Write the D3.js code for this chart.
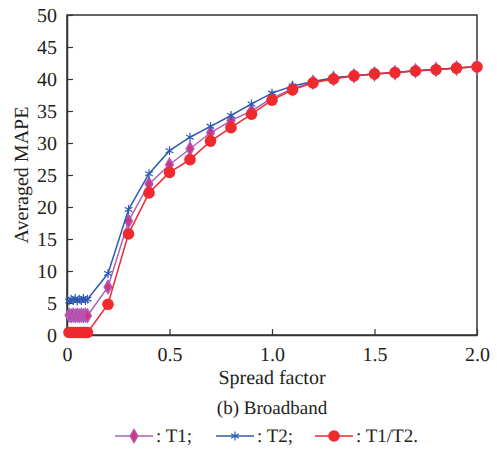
<!DOCTYPE html>
<html>
<head>
<meta charset="utf-8">
<script src="https://cdn.jsdelivr.net/npm/d3@7"></script>
<style>
  html, body { margin: 0; padding: 0; background: #fff; }
  svg { display: block; }
</style>
</head>
<body>
<svg id="chart" width="497" height="449" text-rendering="geometricPrecision"></svg>
<script>
// Spread factor sampled finely near zero, then every 0.1 up to 2.0
const spread = [0.01, 0.02, 0.03, 0.04, 0.05, 0.06, 0.07, 0.08, 0.09, 0.1,
  0.2, 0.3, 0.4, 0.5, 0.6, 0.7, 0.8, 0.9, 1.0, 1.1, 1.2, 1.3, 1.4, 1.5,
  1.6, 1.7, 1.8, 1.9, 2.0];

const t1 = [3.1, 3.0, 3.1, 3.0, 3.1, 3.0, 3.1, 3.0, 3.1, 3.0,
  7.5, 17.8, 23.6, 26.6, 29.1, 31.6, 33.5, 35.0, 37.0, 38.5, 39.5, 40.1, 40.5, 40.8,
  41.0, 41.3, 41.5, 41.7, 41.9];

const t2 = [5.3, 5.6, 5.4, 5.7, 5.3, 5.6, 5.4, 5.7, 5.4, 5.6,
  9.6, 19.6, 25.2, 28.8, 30.9, 32.6, 34.3, 36.1, 37.8, 38.9, 39.6, 40.2, 40.5, 40.8,
  41.0, 41.3, 41.5, 41.7, 41.9];

const t1t2 = [0.4, 0.4, 0.4, 0.4, 0.4, 0.4, 0.4, 0.4, 0.4, 0.4,
  4.8, 15.8, 22.2, 25.4, 27.4, 30.3, 32.4, 34.5, 36.7, 38.3, 39.4, 40.0, 40.5, 40.8,
  41.0, 41.25, 41.45, 41.7, 41.9];

const xTicks = [0, 0.5, 1.0, 1.5, 2.0];
const xTickLabels = ["0", "0.5", "1.0", "1.5", "2.0"];
const yTicks = [0, 5, 10, 15, 20, 25, 30, 35, 40, 45, 50];

const seriesNames = [": T1;", ": T2;", ": T1/T2."];

const FONT = "Liberation Serif";
const TEXT_COLOR = "#231f20";

const svg = d3.select("#chart");
const plot = { left: 67, right: 477, top: 15, bottom: 335 };

const x = d3.scaleLinear().domain([0, 2]).range([plot.left, plot.right]);
const y = d3.scaleLinear().domain([0, 50]).range([plot.bottom, plot.top]);

const axisColor = "#333";

// Frame
svg.append("rect")
  .attr("x", plot.left).attr("y", plot.top)
  .attr("width", plot.right - plot.left).attr("height", plot.bottom - plot.top)
  .attr("fill", "none").attr("stroke", axisColor).attr("stroke-width", 1.5);

// Axes with inward ticks
const xAxis = svg.append("g")
  .attr("transform", `translate(0,${plot.bottom})`)
  .call(d3.axisBottom(x).tickValues(xTicks)
    .tickFormat((d, i) => xTickLabels[i]).tickSizeInner(-6).tickSizeOuter(0).tickPadding(12));
const yAxis = svg.append("g")
  .attr("transform", `translate(${plot.left},0)`)
  .call(d3.axisLeft(y).tickValues(yTicks).tickSizeInner(-6).tickSizeOuter(0).tickPadding(10));

[xAxis, yAxis].forEach(g => {
  g.attr("font-family", FONT).attr("font-size", 20);
  g.select(".domain").attr("stroke", axisColor).attr("stroke-width", 1.5);
  g.selectAll(".tick line").attr("stroke", axisColor).attr("stroke-width", 1.2);
  g.selectAll(".tick text")
    .attr("font-family", FONT).attr("font-size", 20).attr("fill", TEXT_COLOR);
});
yAxis.selectAll(".tick text").attr("dy", "0.34em");

// Axis titles and caption
function label(sel, size) {
  return sel.attr("font-family", FONT).attr("font-size", size).attr("fill", TEXT_COLOR);
}
label(svg.append("text"), 20).attr("x", 272).attr("y", 384)
  .attr("text-anchor", "middle").text("Spread factor");
label(svg.append("text"), 20).attr("transform", "translate(28,175) rotate(-90)")
  .attr("text-anchor", "middle").text("Averaged MAPE");
label(svg.append("text"), 19).attr("x", 272).attr("y", 414)
  .attr("text-anchor", "middle").text("(b) Broadband");

// Marker drawing helpers
const diamond = d3.symbol().type(d3.symbolDiamond).size(48);
const star = d3.symbol().type(d3.symbolAsterisk).size(55);

function drawDiamond(g, cx, cy) {
  g.append("path").attr("d", diamond()).attr("transform", `translate(${cx},${cy})`)
    .attr("fill", "#d6337a").attr("stroke", "#b05ab8").attr("stroke-width", 1.6);
}
function drawStar(g, cx, cy) {
  g.append("path").attr("d", star()).attr("transform", `translate(${cx},${cy})`)
    .attr("fill", "#2e5bb0").attr("stroke", "#2e5bb0").attr("stroke-width", 1.2);
}
function drawCircle(g, cx, cy) {
  g.append("circle").attr("cx", cx).attr("cy", cy).attr("r", 5.8)
    .attr("fill", "#ee2a2f").attr("stroke", "none");
}

const series = [
  { values: t1, line: "#a864b8", marker: drawDiamond },
  { values: t2, line: "#2e5bb0", marker: drawStar },
  { values: t1t2, line: "#ee2a2f", marker: drawCircle }
];

const line = d3.line().x(d => x(d[0])).y(d => y(d[1]));

series.forEach(s => {
  const pts = spread.map((v, i) => [v, s.values[i]]);
  const g = svg.append("g");
  g.append("path").datum(pts).attr("d", line)
    .attr("fill", "none").attr("stroke", s.line).attr("stroke-width", 1.5);
  pts.forEach(p => s.marker(g, x(p[0]), y(p[1])));
});

// Legend
const legend = svg.append("g");
const legendItems = [
  { x0: 115, name: seriesNames[0], s: series[0] },
  { x0: 216, name: seriesNames[1], s: series[1] },
  { x0: 315, name: seriesNames[2], s: series[2] }
];
const ly = 436;
legendItems.forEach(it => {
  legend.append("line").attr("x1", it.x0).attr("x2", it.x0 + 38)
    .attr("y1", ly).attr("y2", ly).attr("stroke", it.s.line).attr("stroke-width", 1.5);
  it.s.marker(legend, it.x0 + 19, ly);
  label(legend.append("text"), 19).attr("x", it.x0 + 41).attr("y", ly + 6).text(it.name);
});
</script>
</body>
</html>
